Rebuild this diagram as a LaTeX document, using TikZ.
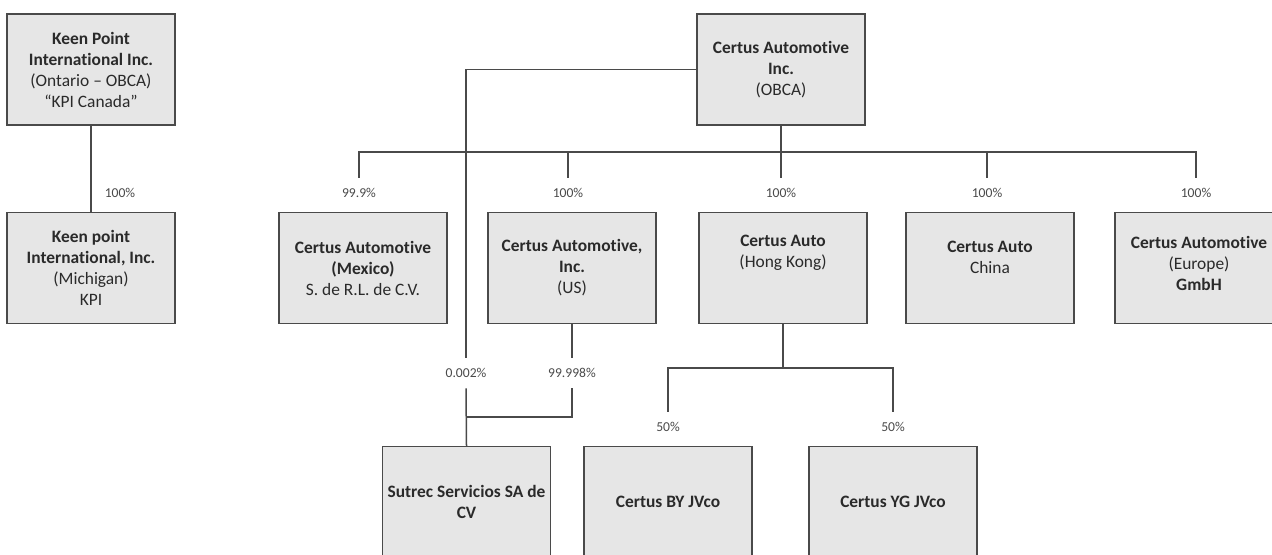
\documentclass[tikz,border=0pt]{standalone}
\usepackage{fontspec}
\setmainfont{Carlito}[Ligatures=NoCommon]
\usepackage{xcolor}

\definecolor{boxgray}{HTML}{E6E6E6}
\definecolor{linegray}{HTML}{4A4A4A}
\definecolor{txtgray}{HTML}{2A2A2A}

\newcommand{\boxfont}{\fontsize{8.7}{10.5}\selectfont}
\newcommand{\pctfont}{\fontsize{6.8}{7.5}\selectfont}

\tikzset{
  orgbox/.style={draw=linegray, fill=boxgray, line width=0.75pt, minimum width=84pt,
    minimum height=55.5pt, inner sep=0pt, align=center, font=\boxfont, text=txtgray},
  boxtext/.style={align=center, font=\boxfont, text=txtgray, inner sep=0pt},
  pct/.style={font=\pctfont, text=linegray, inner sep=0pt, minimum height=15pt},
  link/.style={draw=linegray, line width=0.75pt}
}

\begin{document}
\begin{tikzpicture}[x=0.5pt, y=-0.5pt]
\useasboundingbox (0,0) rectangle (1272,554);

% Canada side
\node[orgbox] (kpica) at (91,69.5) {\textbf{Keen Point}\\\textbf{International Inc.}\\(Ontario -- OBCA)\\“KPI Canada”};
\node[orgbox] (kpi) at (91,268) {\textbf{Keen point}\\\textbf{International, Inc.}\\(Michigan)\\KPI};
\node[pct] (pkpi) at (120,193) {100\%};
\draw[link] (kpica.south) -- (kpi.north);

% parent
\node[orgbox] (obca) at (781,69.5) {\textbf{Certus Automotive}\\\textbf{Inc.}\\(OBCA)};
\coordinate (bus) at (781,152);

% subsidiaries
\node[orgbox] (mex) at (363,268) {\textbf{Certus Automotive}\\\textbf{(Mexico)}\\S. de R.L. de C.V.};
\node[orgbox] (us) at (572,268) {\textbf{Certus Automotive,}\\\textbf{Inc.}\\(US)};
\node[orgbox] (hk) at (783,268) {};
\node[boxtext] (hkT) at (783,252.5) {\textbf{Certus Auto}\\(Hong Kong)};
\node[orgbox] (china) at (990,268) {};
\node[boxtext] (chinaT) at (990,257.5) {\textbf{Certus Auto}\\China};
\node[orgbox] (eur) at (1199,268) {};
\node[boxtext] (eurT) at (1199,263) {\textbf{Certus Automotive}\\(Europe)\\\textbf{GmbH}};

\node[pct] (pmex) at (359,193) {99.9\%};
\node[pct] (pus) at (568,193) {100\%};
\node[pct] (phk) at (781,193) {100\%};
\node[pct] (pchina) at (987,193) {100\%};
\node[pct] (peur) at (1196,193) {100\%};

\draw[link] (obca.south) -- (bus);
\draw[link] (pmex.north) -- (pmex.north |- bus) -- (peur.north |- bus) -- (peur.north);
\draw[link] (pus.north) -- (pus.north |- bus);
\draw[link] (phk.north) -- (phk.north |- bus);
\draw[link] (pchina.north) -- (pchina.north |- bus);

% third level
\node[orgbox] (sutrec) at (466.5,502) {\textbf{Sutrec Servicios SA de}\\\textbf{CV}};
\node[orgbox] (by) at (668,502) {\textbf{Certus BY JVco}};
\node[orgbox] (yg) at (893,502) {\textbf{Certus YG JVco}};

\node[pct] (psmall) at (466,373) {0.002\%};
\node[pct] (pbig) at (572,373) {99.998\%};
\coordinate (join) at (466,417);
\node[pct] (pby) at (668,427) {50\%};
\node[pct] (pyg) at (893,427) {50\%};
\coordinate (hkbus) at (783,368);

\draw[link] (obca.west) -| (psmall.north);
\draw[link] (psmall.south) -- (sutrec.north);
\draw[link] (us.south) -- (pbig.north);
\draw[link] (pbig.south) |- (join);
\draw[link] (hk.south) -- (hkbus);
\draw[link] (pby.north) |- (hkbus) -| (pyg.north);
\end{tikzpicture}
\end{document}
